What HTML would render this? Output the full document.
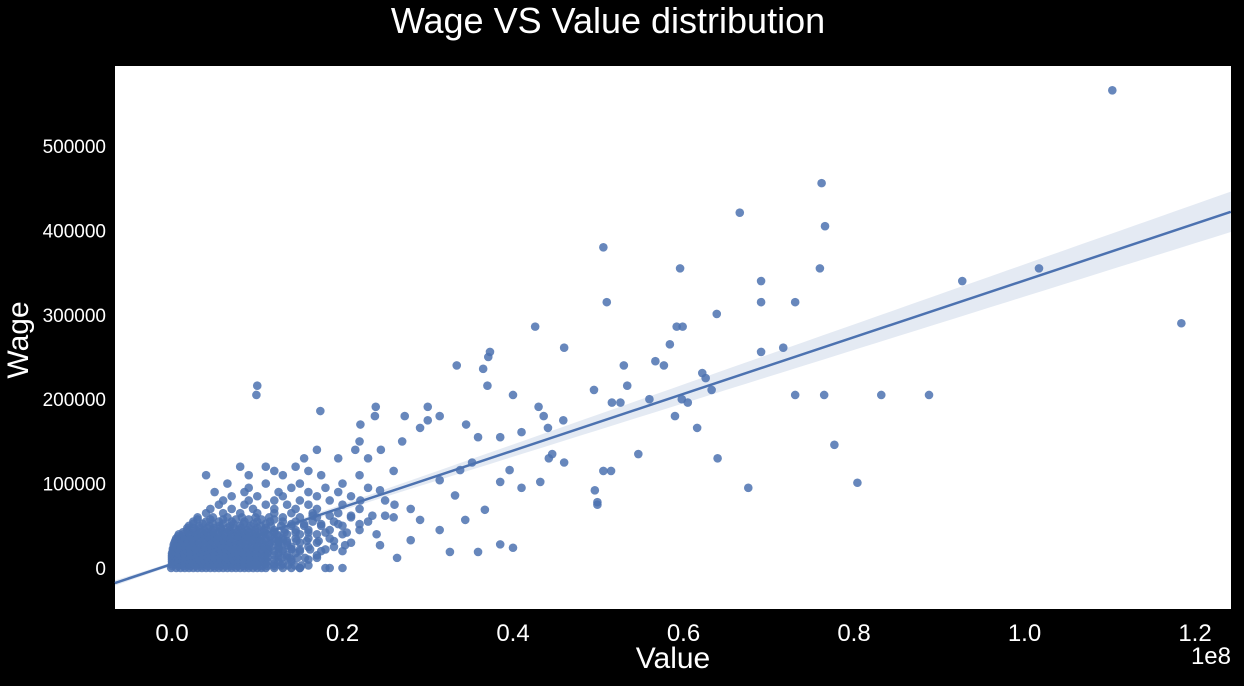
<!DOCTYPE html>
<html><head><meta charset="utf-8"><style>
html,body{margin:0;padding:0;background:#000;}
body{width:1244px;height:681px;overflow:hidden;font-family:"Liberation Sans",sans-serif;}
</style></head><body>
<svg id="chart" width="1244" height="681" xmlns="http://www.w3.org/2000/svg">
<rect x="0" y="0" width="1244" height="681" fill="#000"/>
<text x="608" y="33" fill="#fff" font-size="36" text-anchor="middle" font-family="Liberation Sans, sans-serif">Wage VS Value distribution</text>
<rect x="115" y="66" width="1116" height="543" fill="#fff"/>
<g id="band"></g><g id="pts"></g><g id="line"></g><g id="axes"></g>
<text x="673" y="668" fill="#fff" font-size="30" text-anchor="middle" font-family="Liberation Sans, sans-serif">Value</text>
<text transform="translate(28,340) rotate(-90)" fill="#fff" font-size="30" text-anchor="middle" font-family="Liberation Sans, sans-serif">Wage</text>
<text x="1231" y="664" fill="#fff" font-size="24" text-anchor="end" font-family="Liberation Sans, sans-serif">1e8</text>
</svg>
<script>
// values in millions, wages in thousands
const outlierValues=[110.3,76.2,66.6,76.6,50.6,59.6,101.7,76.0,92.7,69.1,51.0,69.1,73.1,63.9,118.4,42.6,59.2,59.9,58.4,71.7,69.1,46.0,37.3,37.1,36.5,33.4,53.0,56.7,57.7,62.2,62.6,53.4,63.3,37.0,10.0,9.9,40.0,73.1,76.5,83.2,88.8,56.0,59.8,60.5,51.6,52.6,49.5,59.0,61.6,77.7,80.4,64.0,67.6,54.7,51.5,50.6,49.6,49.9,49.9,17.4,46.0,44.6,44.2,45.9,43.0,43.6,44.1,41.0,38.5,35.9,34.5,31.4,30.0,27.3,23.8,23.9,30.0,29.1,22.1,39.6,38.5,41.0,43.2,40.0,35.9,38.5,32.6,26.4,26.1,29.1,24.4,22.1,35.2,33.8,31.4,33.2,36.7,34.4,31.4,28.0,24.4,20.3,18.5,15.0,
12.8,13.6,14.4,15.2,16,12.9,13.8,14.7,15.6,17,13,14,15,16.2,18,12.5,13.5,14.6,15.8,17.2,19,13.2,14.5,16,18,20.5,14,15.5,17.5,19.5,22,16.5,18.5,21,23.5,25];
const outlierWages=[566,456,421,405,380,355,355,355,340,340,315,315,315,301,290,286,286,286,265,261,256,261,256,250,236,240,240,245,240,231,225,216,211,216,216,205,205,205,205,205,205,200,200,196,196,196,211,180,166,146,101,130,95,135,115,115,92,75,78,186,125,135,130,175,191,180,166,161,155,155,170,180,191,180,180,191,175,166,170,116,102,95,102,24,19,28,19,12,75,57,92,80,125,116,104,86,69,57,45,33,27,27,0,0,
3,3,3,3,3,12,12,12,12,12,22,22,22,22,22,32,32,32,32,32,32,42,42,42,42,42,52,52,52,52,52,62,62,62,62,62];
const clusterWages=[0,2.5,5,7.5,10,12.5,15,17.5,20,22.5,25,27.5,30,32.5,35,37.5,40,42.5,45,47.5,50,52.5,55,57.5,60,65,70,75,80,85,90,95,100,110,115,120,130,140,150];
const clusterValues=[
[-0.1,0.5,1,1.5,2,2.5,3,3.5,4,4.5,5,5.5,6,6.5,7,7.5,8,8.5,9,9.5,10,10.5,11,12,13,14,15,18,20],
[0,0.7,1.4,2.1,2.8,3.5,4.2,4.9,5.6,6.3,7,7.7,8.4,9.1,9.8,10.5,11.2,12],
[0,0.4,0.8,1.2,1.6,2,2.5,3,3.5,4,4.5,5,5.5,6,6.5,7,7.5,8,8.5,9,10,11,12,13],
[0,0.7,1.4,2.1,2.8,3.5,4.2,4.9,5.6,6.3,7,7.7,8.4,9.1,9.8,10.5,11.2,12.5,14],
[0,0.3,0.6,1,1.4,1.8,2.2,2.7,3.2,3.7,4.2,4.7,5.2,5.7,6.2,6.7,7.2,7.8,8.4,9,9.6,10.2,11,12,14,16],
[0,0.7,1.4,2.1,2.8,3.5,4.2,4.9,5.6,6.3,7,7.7,8.4,9.1,9.8,10.5,11.2,12.5,13.5],
[0,0.2,0.6,1,1.5,2,2.5,3,3.5,4,4.5,5,5.5,6,6.5,7,7.5,8,8.6,9.2,10,11,12,13.5,17],
[0,0.7,1.4,2.1,2.8,3.5,4.2,4.9,5.6,6.3,7,7.7,8.4,9.1,9.8,10.5,11.2,12.5,14.5],
[0.1,0.3,0.8,1.3,1.8,2.3,2.8,3.3,3.8,4.3,4.8,5.3,5.8,6.3,6.8,7.3,7.8,8.4,9,9.7,10.5,11.3,12,13,15,17.5,20],
[0.1,0.7,1.4,2.1,2.8,3.5,4.2,4.9,5.6,6.3,7,7.7,8.4,9.1,9.8,10.5,11.2,12.5,14],
[0.2,0.5,1,1.5,2,2.6,3.2,3.8,4.4,5,5.6,6.2,6.8,7.4,8,8.7,9.4,10,10.8,11.6,12.5,14,16,19],
[0.2,0.9,1.6,2.3,3,3.7,4.4,5.1,5.8,6.5,7.2,7.9,8.6,9.3,10,10.7,11.4,12.5,13.5],
[0.3,0.8,1.4,2,2.6,3.2,3.8,4.4,5,5.6,6.2,6.8,7.5,8.2,9,9.8,10.6,11.5,12.5,13.5,15,17,21],
[0.4,1.1,1.8,2.5,3.2,3.9,4.6,5.3,6,6.7,7.4,8.1,8.8,9.5,10.2,11,12,13],
[0.5,1,1.7,2.4,3.1,3.8,4.5,5.2,6,6.8,7.6,8.4,9.2,10,11,12,13,14.5,16,18.5],
[0.7,1.4,2.1,2.8,3.5,4.2,4.9,5.6,6.3,7,7.7,8.4,9.1,9.8,10.5,11.5,12.5],
[0.8,1.3,2.1,2.9,3.7,4.5,5.3,6.1,7,7.8,8.6,9.5,10.4,11.3,12.3,13.5,15,17,20,24],
[1.3,2,2.7,3.4,4.1,4.8,5.5,6.2,6.9,7.6,8.3,9,9.8,10.8,12],
[1.8,2.8,3.8,4.8,5.8,6.8,7.8,8.8,9.8,10.8,12,13.2,14.5,16,18.5,22],
[1.8,2.5,3.3,4.1,4.9,5.7,6.5,7.3,8.1,9,10,11],
[2,3.2,4.4,5.6,6.8,8,9.2,10.4,11.6,12.8,14,15.5,17.5,20],
[2.5,3.6,4.8,6,7.2,8.4,9.6,11],
[2.5,4,5.5,7,8.5,10,11.5,13,14.5,16.5,19,23],
[3,4.5,6,7.5,9,10.5,12],
[3,4.8,6.5,8.2,9.8,11.4,13,15,17,21,26],
[4,6,8,10,12,14,16.5,19.5],
[4.5,7,9.5,12,14.5,17,22,28],
[5.5,8.5,11,13.5,16,20],
[6,9,12,15,18.5,25],
[7,10,13,17,21],
[5,8.5,12.5,16,19.5],
[9,14,18,23],
[6.5,11,15,20],
[4,9,13,17.5,22],
[12,16,26],
[8,11,14.5],
[15.5,19.5,23],
[17,21.5,24.5],
[22,27]];
const xTicks=[0,20,40,60,80,100,120];
const xTickLabels=["0.0","0.2","0.4","0.6","0.8","1.0","1.2"];
const yTicks=[0,100,200,300,400,500];
const yTickLabels=["0","100000","200000","300000","400000","500000"];
const fitSlope=3.36, fitIntercept=4.7; // wage(k) = slope*value(M)+intercept
const NS="http://www.w3.org/2000/svg";
const xs=v=>172+(v/10)*85.25;
const ys=w=>568-w*0.844;
const X0=-6.7,X1=124.2;
function mk(t,a,p){const e=document.createElementNS(NS,t);for(const k in a)e.setAttribute(k,a[k]);p.appendChild(e);return e;}
const pts=document.getElementById('pts');
function dot(v,w){const c=mk('circle',{cx:xs(v),cy:ys(w),r:4.3,fill:'#4c72b0','fill-opacity':0.85},pts);

}
clusterWages.forEach((w,i)=>clusterValues[i].forEach(v=>dot(v,w)));
outlierValues.forEach((v,i)=>dot(v,outlierWages[i]));
const fit=v=>fitSlope*v+fitIntercept;
const ci=v=>Math.sqrt(4+0.04*(v-5)*(v-5));
let up=[],dn=[];
for(let v=X0;v<=X1+0.01;v+=(X1-X0)/60){up.push(xs(v)+','+ys(fit(v)+ci(v)));dn.unshift(xs(v)+','+ys(fit(v)-ci(v)));}
const band=mk('polygon',{points:up.concat(dn).join(' '),fill:'#4c72b0','fill-opacity':0.15},document.getElementById('band'));


const ln=mk('line',{x1:xs(X0),y1:ys(fit(X0)),x2:xs(X1),y2:ys(fit(X1)),stroke:'#4c72b0','stroke-width':2.5},document.getElementById('line'));


const ax=document.getElementById('axes');
xTicks.forEach((v,i)=>{const t=mk('text',{x:xs(v),y:641,fill:'#fff','font-size':24,'text-anchor':'middle','font-family':'Liberation Sans, sans-serif'},ax);t.textContent=xTickLabels[i];

});
yTicks.forEach((w,i)=>{const t=mk('text',{x:106,y:ys(w)+7,fill:'#fff','font-size':19,'text-anchor':'end','font-family':'Liberation Sans, sans-serif'},ax);t.textContent=yTickLabels[i];

});
</script>
</body></html>
